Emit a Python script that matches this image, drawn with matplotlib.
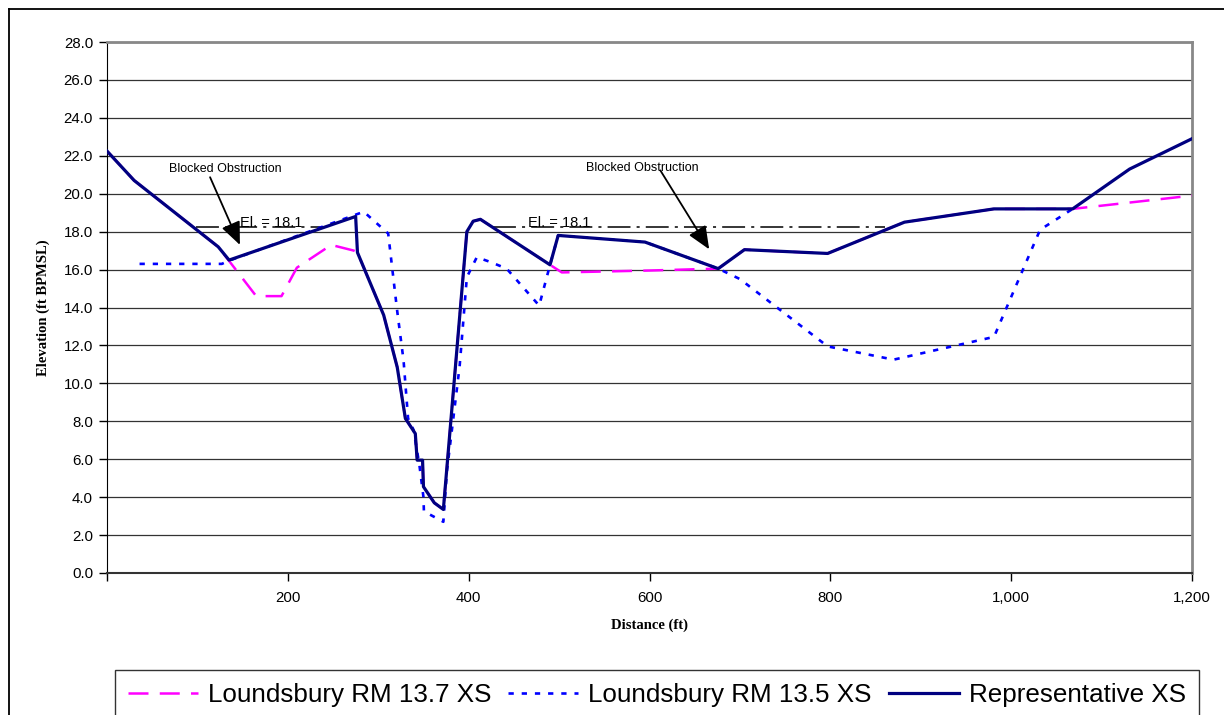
import matplotlib
matplotlib.use('Agg')
import matplotlib.pyplot as plt
from matplotlib.lines import Line2D
from matplotlib.ticker import FuncFormatter

# Cross-section data (distance ft, elevation ft BPMSL)
rep_x = [0, 30, 123, 135, 275, 277, 306, 321, 330, 341, 343, 349, 350, 362, 372,
         398, 405, 413, 490, 499, 595, 676, 705, 797, 882, 981, 1068, 1131, 1200]
rep_y = [22.25, 20.7, 17.2, 16.5, 18.8, 16.9, 13.6, 10.85, 8.15, 7.35, 5.95, 5.95, 4.55, 3.7, 3.35,
         18.0, 18.55, 18.65, 16.25, 17.8, 17.45, 16.05, 17.05, 16.85, 18.5, 19.2, 19.2, 21.3, 22.9]

xs137_x = [0, 30, 123, 165, 193, 210, 248, 273, 277, 306, 321, 330, 341, 343, 349, 350, 362, 372,
           398, 405, 413, 490, 503, 600, 676, 705, 797, 882, 981, 1068, 1200]
xs137_y = [22.25, 20.7, 17.2, 14.6, 14.6, 16.1, 17.3, 17.0, 16.9, 13.6, 10.85, 8.15, 7.35, 5.95, 5.95, 4.55, 3.7, 3.35,
           18.0, 18.55, 18.65, 16.25, 15.85, 15.95, 16.05, 17.05, 16.85, 18.5, 19.2, 19.2, 19.9]

xs135_x = [36, 127, 135, 284, 311, 315, 321, 328, 333, 339, 345.5, 350, 350.5, 372, 376, 390, 398,
           409, 424, 442, 478, 490, 499, 595, 676, 700, 797, 870, 981, 1032, 1068]
xs135_y = [16.3, 16.3, 16.47, 19.05, 17.9, 16.25, 13.8, 11.2, 8.15, 7.55, 5.7, 4.0, 3.25, 2.7, 5.4, 10.9, 15.6,
           16.65, 16.4, 16.05, 14.1, 16.25, 17.8, 17.45, 16.05, 15.5, 11.95, 11.25, 12.45, 18.1, 19.2]

# blocked obstruction elevation lines
obs_elev = 18.25
obs1_x = [98, 240]
obs2_x = [427, 861]

fig = plt.figure(figsize=(12.24, 7.15), dpi=100)
ax = fig.add_axes([107 / 1224, 142 / 715, 1085 / 1224, 531 / 715])

ax.plot(xs137_x, xs137_y, color='#ff00ff', lw=1.8, linestyle=(0, (8, 4.5)), label='Loundsbury RM 13.7 XS', zorder=3)
ax.plot(xs135_x, xs135_y, color='#0000ff', lw=1.9, linestyle=(0, (2, 3)), label='Loundsbury RM 13.5 XS', zorder=4)
ax.plot(rep_x, rep_y, color='#000080', lw=2.3, label='Representative XS', zorder=5)

for xx in (obs1_x, obs2_x):
    ax.plot(xx, [obs_elev, obs_elev], color='black', lw=1.1, linestyle=(0, (15, 4, 2, 4)), zorder=2)

ax.text(147, obs_elev, 'El. = 18.1', fontsize=10.5, family='Liberation Sans', va='baseline', ha='left', zorder=6)
ax.text(466, obs_elev, 'El. = 18.1', fontsize=10.5, family='Liberation Sans', va='baseline', ha='left', zorder=6)

ax.text(130.5, 21.3, 'Blocked Obstruction', fontsize=9, family='Liberation Sans', ha='center', va='center')
ax.text(592, 21.35, 'Blocked Obstruction', fontsize=9, family='Liberation Sans', ha='center', va='center')
arrow = dict(arrowstyle='-|>,head_length=0.7,head_width=0.3', color='black', lw=1.3,
             mutation_scale=20, shrinkA=0, shrinkB=0)
ax.annotate('', xy=(147, 17.3), xytext=(114, 20.87), arrowprops=arrow, zorder=7)
ax.annotate('', xy=(666, 17.07), xytext=(612, 21.23), arrowprops=arrow, zorder=7)

ax.set_xlim(0, 1200)
ax.set_ylim(0, 28)
ax.set_xticks(range(0, 1201, 200))
ax.set_yticks([i * 2.0 for i in range(15)])
ax.xaxis.set_major_formatter(FuncFormatter(lambda v, p: '' if v == 0 else f'{int(v):,}'))
ax.yaxis.set_major_formatter(FuncFormatter(lambda v, p: f'{v:.1f}'))
ax.tick_params(axis='both', direction='out', length=6, width=1, color='black', labelsize=10.8)
ax.tick_params(axis='x', pad=7)
ax.tick_params(axis='y', pad=4)
for lab in ax.get_xticklabels() + ax.get_yticklabels():
    lab.set_family('Liberation Sans')

ax.grid(axis='y', color='#333333', lw=0.9)
ax.set_axisbelow(True)
ax.spines['left'].set_color('black')
ax.spines['bottom'].set_color('#333333')
ax.spines['bottom'].set_linewidth(1.5)
ax.spines['top'].set_color('#888888')
ax.spines['top'].set_linewidth(2)
ax.spines['right'].set_color('#888888')
ax.spines['right'].set_linewidth(2)

ax.set_xlabel('Distance (ft)', family='Liberation Serif', fontweight='bold', fontsize=10.5, labelpad=10)
ax.set_ylabel('Elevation (ft BPMSL)', family='Liberation Serif', fontweight='bold', fontsize=10.5, labelpad=10)

# outer chart frame (cut off at right and bottom)
fig.add_artist(Line2D([9 / 1224, 1.0], [1 - 9 / 715, 1 - 9 / 715], color='black', lw=1.3, transform=fig.transFigure))
fig.add_artist(Line2D([9 / 1224, 9 / 1224], [0.0, 1 - 9 / 715], color='black', lw=1.3, transform=fig.transFigure))

leg = fig.legend(loc='upper left', bbox_to_anchor=(115 / 1224, 1 - 670 / 715), ncol=3,
                 prop={'family': 'Liberation Sans', 'size': 18.7}, handlelength=2.7, handletextpad=0.38,
                 columnspacing=0.65, borderpad=0.5, borderaxespad=0, fancybox=False, frameon=True)
leg.get_frame().set_edgecolor('black')
leg.get_frame().set_linewidth(1)

fig.savefig('out.png', dpi=100)
